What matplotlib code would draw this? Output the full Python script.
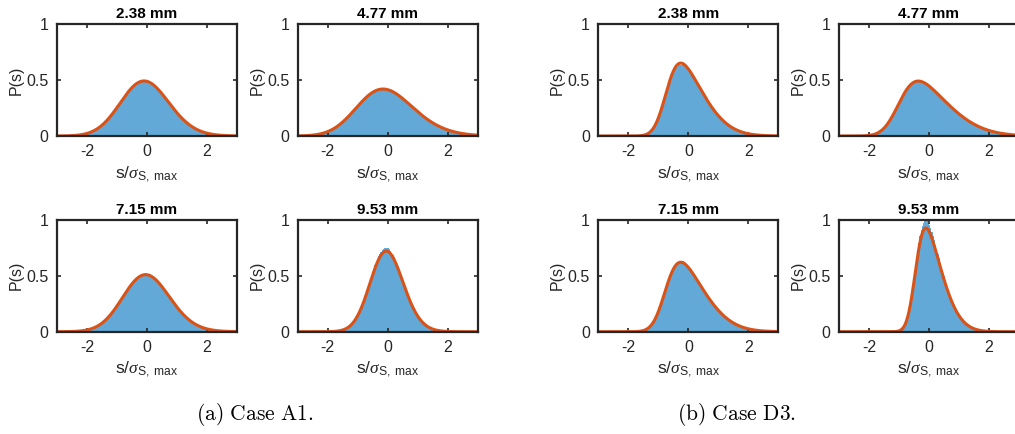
import math

import numpy as np
from matplotlib import pyplot as plt

plt.rcParams["font.family"] = ["Liberation Sans", "DejaVu Sans"]
plt.rcParams["mathtext.fontset"] = "custom"
plt.rcParams["mathtext.rm"] = "Liberation Sans"
plt.rcParams["mathtext.it"] = "Liberation Serif:italic"
plt.rcParams["axes.unicode_minus"] = False

# panel titles (gap sizes)
titles = ["2.38 mm", "4.77 mm", "7.15 mm", "9.53 mm"]
captions = [r"$\mathrm{(a)\ Case\ A1.}$", r"$\mathrm{(b)\ Case\ D3.}$"]

# skew-normal fit parameters: location, scale, shape
a1_loc = [-0.60, -0.86, -0.53, -0.39]
a1_scale = [0.99, 1.30, 0.955, 0.676]
a1_shape = [1.0, 1.5, 1.0, 1.0]

d3_loc = [-0.73, -0.99, -0.755, -0.44]
d3_scale = [1.01, 1.34, 1.06, 0.71]
d3_shape = [3.0, 3.0, 3.0, 3.0]

# ratio of histogram peak to fitted peak
a1_hist_gain = [1.0, 1.0, 1.02, 1.04]
d3_hist_gain = [0.98, 0.99, 1.02, 1.07]

BLUE = "#62a9d7"
RED = "#d95319"
INK = "#262626"

_erf = np.vectorize(math.erf)


def skewnorm_pdf(x, loc, scale, shape):
    z = (x - loc) / scale
    phi = np.exp(-0.5 * z ** 2) / math.sqrt(2 * math.pi)
    cdf = 0.5 * (1 + _erf(shape * z / math.sqrt(2)))
    return 2.0 / scale * phi * cdf


fig = plt.figure(figsize=(10.15, 4.34), dpi=100)

col_x = [0.0562, 0.2933, 0.5895, 0.8266]
row_y = [0.6866, 0.2357]
w, h = 0.1773, 0.258

edges = np.linspace(-3, 3, 151)
centers = 0.5 * (edges[:-1] + edges[1:])
xs = np.linspace(-3, 3, 400)

cases = [
    (a1_loc, a1_scale, a1_shape, a1_hist_gain, 0),
    (d3_loc, d3_scale, d3_shape, d3_hist_gain, 2),
]

for loc, scale, shape, gain, c0 in cases:
    for i in range(4):
        r, c = divmod(i, 2)
        ax = fig.add_axes([col_x[c0 + c], row_y[r], w, h])
        hist = gain[i] * skewnorm_pdf(centers, loc[i], scale[i], shape[i])
        ax.stairs(hist, edges, fill=True, color=BLUE, lw=0)
        ax.plot(xs, skewnorm_pdf(xs, loc[i], scale[i], shape[i]), color=RED, lw=2.2)

        ax.set_xlim(-3, 3)
        ax.set_ylim(0, 1)
        ax.set_xticks([-2, 0, 2])
        ax.set_yticks([0, 0.5, 1])
        ax.set_yticklabels(["0", "0.5", "1"])
        ax.tick_params(direction="in", length=3, width=1.2, top=True, right=True,
                       labelsize=11.5, colors=INK, pad=6)
        for sp in ax.spines.values():
            sp.set_linewidth(1.6)
            sp.set_color(INK)
        ax.set_title(titles[i], fontsize=11, fontweight="bold", pad=4)
        ax.set_ylabel("P(s)", fontsize=11.5, color=INK, labelpad=2)
        ax.set_xlabel(r"s/$\mathit{\sigma}_{\mathrm{S,\ max}}$", fontsize=12.5,
                      color=INK, labelpad=3)

fig.text(0.2512, 0.032, captions[0], math_fontfamily="cm",
         fontsize=15.5, ha="center", va="baseline")
fig.text(0.7251, 0.032, captions[1], math_fontfamily="cm",
         fontsize=15.5, ha="center", va="baseline")

fig.savefig("out.png", dpi=100)
